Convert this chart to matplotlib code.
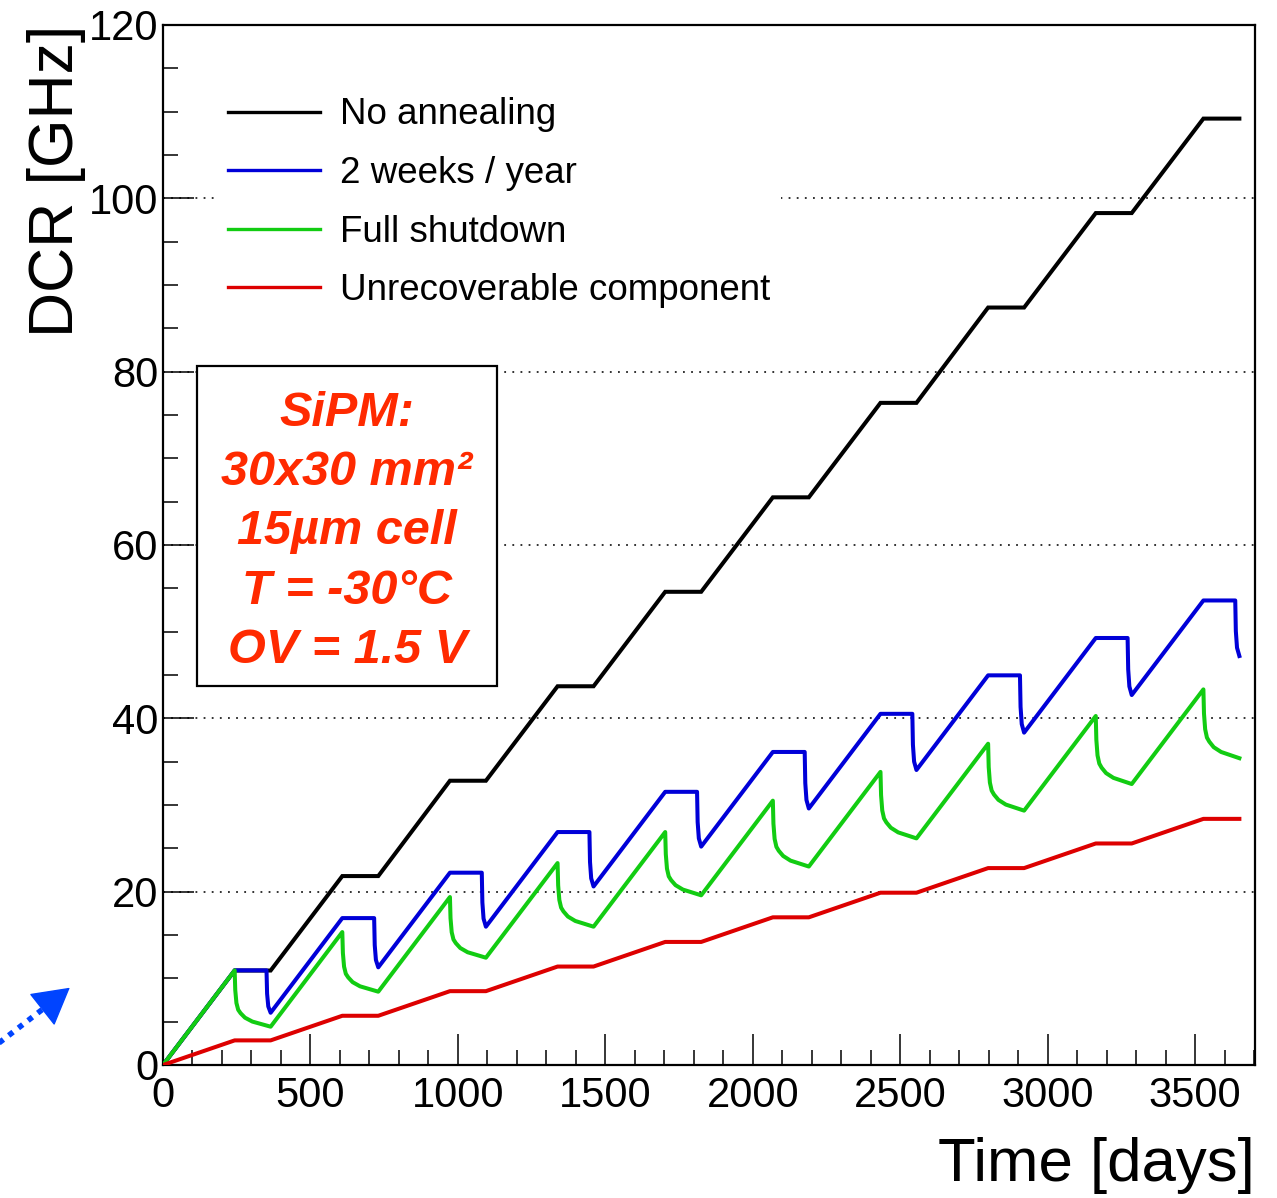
import matplotlib
matplotlib.use('Agg')
import matplotlib.pyplot as plt
from matplotlib.patches import Rectangle
from matplotlib.ticker import MultipleLocator

plt.rcParams['font.family'] = ['Liberation Sans', 'DejaVu Sans']

# ---------------- data ----------------
year_start = [0, 365, 730, 1095, 1460, 1825, 2190, 2555, 2920, 3285]
run_end = 243          # days of operation in each year
year_len = 365

black_levels = [10.9, 21.8, 32.8, 43.7, 54.6, 65.5, 76.4, 87.4, 98.3, 109.2]
red_levels = [2.84, 5.68, 8.52, 11.36, 14.2, 17.04, 19.88, 22.72, 25.56, 28.4]

blue_offsets = [243, 351, 353, 357, 365]
blue_values = [
    [10.92, 10.92, 8.23, 6.76, 6.03],
    [16.95, 16.95, 13.83, 12.12, 11.27],
    [22.19, 22.19, 18.76, 16.89, 15.96],
    [26.88, 26.88, 23.43, 21.54, 20.60],
    [31.52, 31.52, 28.04, 26.15, 25.20],
    [36.12, 36.12, 32.53, 30.58, 29.60],
    [40.52, 40.52, 36.96, 35.01, 34.04],
    [44.96, 44.96, 41.32, 39.34, 38.35],
    [49.27, 49.27, 45.65, 43.68, 42.69],
    [53.60, 53.60, 50.07, 48.15, 47.19],
]

green_offsets = [243, 245, 249, 255, 263, 278, 303, 365]
green_values = [
    [10.92, 8.65, 7.15, 6.37, 5.98, 5.46, 5.01, 4.42],
    [15.34, 12.93, 11.35, 10.52, 10.11, 9.56, 9.08, 8.46],
    [19.38, 16.93, 15.32, 14.48, 14.06, 13.50, 13.01, 12.38],
    [23.30, 20.73, 19.04, 18.16, 17.72, 17.13, 16.62, 15.96],
    [26.88, 24.33, 22.65, 21.77, 21.33, 20.75, 20.24, 19.58],
    [30.50, 27.84, 26.09, 25.18, 24.72, 24.12, 23.58, 22.90],
    [33.82, 31.14, 29.37, 28.45, 27.99, 27.38, 26.84, 26.15],
    [37.07, 34.37, 32.59, 31.67, 31.20, 30.59, 30.05, 29.35],
    [40.27, 37.52, 35.72, 34.78, 34.30, 33.68, 33.13, 32.42],
    [43.34, 40.56, 38.74, 37.78, 37.31, 36.67, 36.12, 35.40],
]

labels = ["No annealing", "2 weeks / year", "Full shutdown", "Unrecoverable component"]
colors = ["#000000", "#0000d8", "#12cc12", "#dd0000"]
x_ticks = [0, 500, 1000, 1500, 2000, 2500, 3000, 3500]
y_ticks = [0, 20, 40, 60, 80, 100, 120]
box_lines = ["SiPM:", "30x30 mm\u00b2", "15\u00b5m cell", "T = -30\u00b0C", "OV = 1.5 V"]

# ---------------- assemble series ----------------
def step_series(levels):
    t, v = [0], [0.0]
    for s, lev in zip(year_start, levels):
        t += [s + run_end, s + year_len]
        v += [lev, lev]
    return t, v

def curve_series(offsets, values):
    t, v = [0], [0.0]
    for s, vals in zip(year_start, values):
        t += [s + o for o in offsets]
        v += list(vals)
    return t, v

bt, bv = step_series(black_levels)
rt, rv = step_series(red_levels)
blt, blv = curve_series(blue_offsets, blue_values)
gt, gv = curve_series(green_offsets, green_values)

# ---------------- figure ----------------
W, H = 1277, 1198
fig = plt.figure(figsize=(W / 100, H / 100), dpi=100)
ax = fig.add_axes([163 / W, 1 - 1065 / H, 1092 / W, 1040 / H])

ax.set_xlim(0, 3703)
ax.set_ylim(0, 120)

for yv in y_ticks[1:-1]:
    ax.axhline(yv, color='#222222', lw=1.3, ls=(0, (1, 3.5)), zorder=1)

lw = 2.9
l1, = ax.plot(bt, bv, color=colors[0], lw=lw, zorder=5, solid_joinstyle='miter')
l2, = ax.plot(blt, blv, color=colors[1], lw=lw, zorder=5)
l3, = ax.plot(gt, gv, color=colors[2], lw=lw, zorder=5)
l4, = ax.plot(rt, rv, color=colors[3], lw=lw, zorder=5)

ax.xaxis.set_major_locator(MultipleLocator(500))
ax.xaxis.set_minor_locator(MultipleLocator(100))
ax.yaxis.set_major_locator(MultipleLocator(20))
ax.yaxis.set_minor_locator(MultipleLocator(5))
ax.set_xticks(x_ticks)
ax.set_yticks(y_ticks)
ax.tick_params(which='major', direction='in', length=22, width=1.1, labelsize=30)
ax.tick_params(axis='x', which='major', pad=8)
ax.tick_params(axis='y', which='major', pad=3.5)
ax.tick_params(which='minor', direction='in', length=11, width=1.1)
ax.tick_params(top=False, right=False, which='both')
for sp in ax.spines.values():
    sp.set_linewidth(1.6)

ax.set_xlabel("Time [days]", fontsize=44.5, ha='right', x=1.0, labelpad=15)
ax.set_ylabel("DCR [GHz]", fontsize=45, ha='right', y=1.0, labelpad=2)

leg = ax.legend([l1, l2, l3, l4], labels, loc='upper left',
                bbox_to_anchor=(0.049, 0.941), fontsize=26.5, frameon=True,
                fancybox=False, edgecolor='none', facecolor='white', framealpha=1,
                handlelength=2.5, handletextpad=0.55, labelspacing=0.64,
                borderpad=0.3, borderaxespad=0)
leg.set_zorder(3)
for h in leg.get_lines():
    h.set_linewidth(2.4)

# annotation box
ax.add_patch(Rectangle((0.031, 0.3644), 0.275, 0.3077, transform=ax.transAxes,
                       facecolor='white', edgecolor='black', lw=1.6, zorder=3))
ax.text(0.1685, 0.5125, "\n".join(box_lines), transform=ax.transAxes,
        ha='center', va='center', multialignment='center', fontsize=35,
        fontweight='bold', fontstyle='italic', color='#ff2a00',
        linespacing=1.41, zorder=4)

# blue dotted arrow at lower left (outside the axes)
fig.add_artist(plt.Line2D([-5 / W, 52 / W], [(H - 1046) / H, (H - 1002) / H],
                          transform=fig.transFigure, color='#0044ff', lw=4,
                          ls=(0, (1, 1.2))))
ax.annotate('', xy=(72, H - 986), xytext=(46, H - 1006.5),
            xycoords='figure pixels', textcoords='figure pixels',
            arrowprops=dict(arrowstyle='-|>,head_length=0.8,head_width=0.45',
                            color='#0044ff', lw=1, mutation_scale=30),
            annotation_clip=False)

fig.savefig('out.png', dpi=100)
